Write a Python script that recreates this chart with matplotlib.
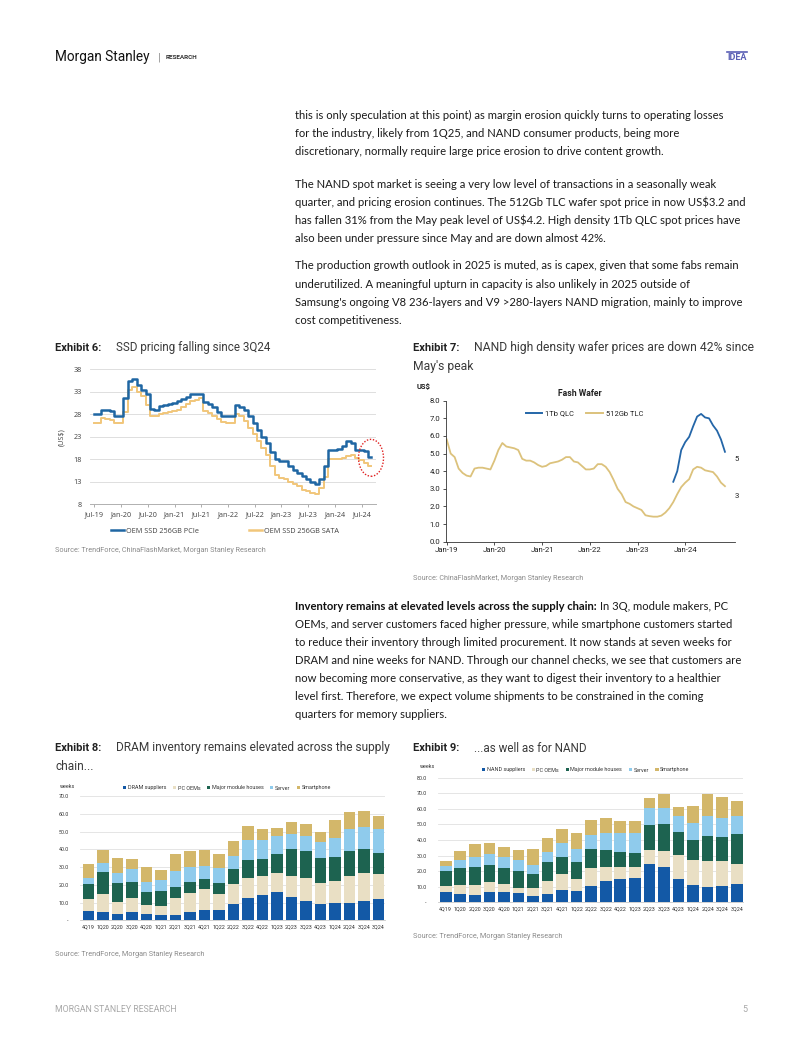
import matplotlib
matplotlib.use('Agg')
import matplotlib.pyplot as plt
from matplotlib.patches import Ellipse, Patch
from matplotlib.lines import Line2D
import numpy as np

# ---------------- DATA ----------------
# Exhibit 6: SSD pricing (US$), monthly Jul-19 .. Sep-24
ssd_pcie = [28, 28, 29, 29, 28.8, 27.6,
            27.5, 31.5, 35.5, 35.8, 34.5, 33.5, 32.5, 29.2, 29, 29.8, 30, 30.3,
            30.5, 31, 31.3, 31.8, 32.5, 32.5, 32.5, 30.8, 30.3, 29.5, 28.5, 27.5,
            27.5, 27.5, 30, 29.7, 29, 27.5, 26, 24.5, 23, 21.5, 19.5, 18,
            17.5, 17.5, 16.5, 15.5, 14.8, 14.2, 13.5, 13, 12.5, 13.5, 16.5, 20,
            20, 20.3, 21, 22, 21.5, 20, 20, 19.8, 18.5]
ssd_sata = [26, 26, 27.2, 27, 26.8, 26,
            26, 28.5, 33.5, 34, 33, 32, 30, 27.5, 27.5, 28, 28.2, 28.5,
            28.7, 29, 29.5, 30.3, 31, 31.2, 31.5, 28.7, 28.2, 27.5, 27, 26.2,
            26, 26, 28, 27.5, 26.5, 25, 23.5, 22, 20.5, 19, 16.5, 14.5,
            13.7, 13.5, 13, 12.5, 12, 11.2, 11, 10.5, 10.3, 11.5, 14, 18,
            18, 18, 18.3, 18.8, 19, 18.2, 17.8, 17.2, 16.5]
ssd_ticklabels = ['Jul-19', 'Jan-20', 'Jul-20', 'Jan-21', 'Jul-21', 'Jan-22',
                  'Jul-22', 'Jan-23', 'Jul-23', 'Jan-24', 'Jul-24']
ssd_yticks = [8, 13, 18, 23, 28, 33, 38]

# Exhibit 7: Flash wafer prices (US$), monthly Jan-19 .. Nov-24
wafer_tlc = [5.8, 5.0, 4.8, 4.15, 3.9, 3.75, 3.7, 4.15, 4.2, 4.2, 4.15, 4.1,
             4.6, 5.2, 5.6, 5.4, 5.35, 5.3, 5.2, 4.7, 4.6, 4.6, 4.5, 4.35,
             4.25, 4.3, 4.45, 4.5, 4.55, 4.65, 4.8, 4.8, 4.55, 4.5, 4.3, 4.1,
             4.1, 4.15, 4.4, 4.4, 4.25, 3.95, 3.5, 3.0, 2.7, 2.25, 2.15, 2.0,
             1.9, 1.8, 1.5, 1.45, 1.42, 1.42, 1.48, 1.65, 1.9, 2.25, 2.7, 3.1,
             3.35, 3.55, 4.1, 4.25, 4.2, 4.05, 4.0, 3.95, 3.7, 3.35, 3.15]
qlc_first_month_index = 57  # Oct-23 counted from Jan-19
wafer_qlc = [3.4, 4.0, 5.2, 5.65, 5.95, 6.55, 7.1, 7.25, 7.05, 7.0, 6.6, 6.3, 5.8, 5.1]
wafer_ticklabels = ['Jan-19', 'Jan-20', 'Jan-21', 'Jan-22', 'Jan-23', 'Jan-24']

# Exhibits 8 & 9: inventory weeks
quarters = ['4Q19', '1Q20', '2Q20', '3Q20', '4Q20', '1Q21', '2Q21', '3Q21', '4Q21',
            '1Q22', '2Q22', '3Q22', '4Q22', '1Q23', '2Q23', '3Q23', '4Q23', '1Q24',
            '2Q24', '3Q24', '3Q24']
dram_suppliers = [5.3, 4.9, 3.8, 4.5, 3.8, 3.2, 3.2, 4.5, 5.6, 6.0, 9.0, 12.4, 14.3,
                  15.8, 12.9, 10.9, 9.0, 9.6, 9.6, 10.9, 12.0]
dram_pc = [6.7, 9.9, 6.7, 8.3, 4.8, 5.1, 9.2, 10.7, 12.0, 8.8, 11.6, 11.6, 10.8,
           10.7, 12.1, 13.1, 11.8, 12.5, 15.5, 15.6, 13.9]
dram_module = [8.3, 12.6, 10.3, 8.6, 7.2, 8.2, 6.6, 6.2, 5.5, 6.4, 8.3, 10.0, 9.4,
               11.0, 15.0, 15.0, 14.1, 13.7, 13.9, 13.5, 12.2]
dram_server = [3.3, 4.7, 5.7, 7.3, 6.0, 6.2, 8.8, 8.8, 7.7, 8.1, 7.5, 11.0, 10.5,
               9.8, 8.8, 8.5, 9.4, 10.7, 12.2, 12.7, 13.3]
dram_phone = [8.3, 7.5, 8.4, 5.8, 8.0, 5.6, 9.4, 8.8, 8.8, 8.0, 8.3, 8.1, 6.2,
              4.5, 6.6, 6.9, 5.6, 10.0, 10.0, 9.0, 7.3]

nand_suppliers = [6.8, 5.1, 4.5, 6.8, 6.8, 5.8, 4.3, 5.1, 7.9, 7.1, 10.5, 13.7, 15.0,
                  15.8, 24.8, 22.9, 15.0, 11.1, 9.8, 10.7, 11.6]
nand_pc = [3.7, 6.0, 6.6, 6.5, 5.2, 3.6, 4.7, 8.8, 10.1, 7.9, 11.3, 9.2, 7.9,
           7.1, 8.7, 10.0, 15.4, 16.1, 16.7, 15.8, 13.0]
nand_module = [9.6, 11.1, 11.8, 10.7, 10.2, 10.9, 9.2, 11.8, 11.3, 10.7, 12.4, 10.6, 9.6,
               9.0, 16.1, 17.6, 14.9, 12.6, 16.2, 15.4, 19.0]
nand_server = [3.2, 5.0, 6.0, 7.0, 7.1, 6.9, 5.7, 6.8, 9.0, 8.3, 9.0, 10.8, 11.8,
               12.4, 10.7, 9.8, 10.1, 10.9, 12.9, 12.4, 12.0]
nand_phone = [3.4, 5.7, 8.5, 6.9, 6.4, 6.4, 10.3, 8.6, 8.8, 10.3, 9.6, 9.6, 7.9,
              7.9, 6.8, 9.0, 6.0, 11.3, 13.7, 13.1, 9.6]

# ---------------- STYLE ----------------
W, H = 802, 1037
BODY = 'Lato'
TITLE = 'Roboto'
seg_colors = ['#1359a6', '#e9dfc4', '#1d6350', '#8fcbec', '#d3b76a']
blue_line = '#1f66a3'
tan_line = '#f1c67a'
wafer_tan = '#dcc27c'
wafer_blue = '#2466a8'

fig = plt.figure(figsize=(W / 100, H / 100), dpi=100)
fig.patch.set_facecolor('white')


def fx(x):
    return x / W


def fy(y):
    return 1 - y / H


def T(x, y, s, **kw):
    kw.setdefault('va', 'center')
    return fig.text(fx(x), fy(y), s, **kw)


def fit_width(txt, target_px):
    """Scale a text's font size so that its rendered width equals target_px."""
    r = fig.canvas.get_renderer()
    w = txt.get_window_extent(renderer=r).width
    if w > 0:
        txt.set_fontsize(txt.get_fontsize() * target_px / w)


def axes_px(x0, y0, x1, y1):
    return fig.add_axes([fx(x0), fy(y1), (x1 - x0) / W, (y1 - y0) / H])


# ---------------- HEADER / FOOTER ----------------
ms = T(55, 57, 'Morgan Stanley', fontsize=10.5, family='Roboto', color='#111111')
fit_width(ms, 95)
T(158, 57, '|', fontsize=8, family='Roboto', color='#888888')
T(166, 57.5, 'RESEARCH', fontsize=4.6, family='Roboto', weight='bold', color='#333333')
T(727, 58, 'IDEA', fontsize=6.5, family='Roboto', weight='bold', color='#5a5fb5')
fig.add_artist(Line2D([fx(727), fx(747)], [fy(51.5), fy(51.5)], color='#5a5fb5', lw=1.2))
T(55, 1010, 'MORGAN STANLEY RESEARCH', fontsize=6.3, family='Roboto', color='#a8a8a8')
T(742, 1010, '5', fontsize=6.5, family='Roboto', color='#a8a8a8')

# ---------------- BODY TEXT ----------------
para_lines = [
    (115, "this is only speculation at this point) as margin erosion quickly turns to operating losses"),
    (133.3, "for the industry, likely from 1Q25, and NAND consumer products, being more"),
    (151.7, "discretionary, normally require large price erosion to drive content growth."),
    (184, "The NAND spot market is seeing a very low level of transactions in a seasonally weak"),
    (202.3, "quarter, and pricing erosion continues. The 512Gb TLC wafer spot price in now US$3.2 and"),
    (220.7, "has fallen 31% from the May peak level of US$4.2. High density 1Tb QLC spot prices have"),
    (238.3, "also been under pressure since May and are down almost 42%."),
    (265.7, "The production growth outlook in 2025 is muted, as is capex, given that some fabs remain"),
    (284.3, "underutilized. A meaningful upturn in capacity is also unlikely in 2025 outside of"),
    (302.7, "Samsung's ongoing V8 236-layers and V9 >280-layers NAND migration, mainly to improve"),
    (320.7, "cost competitiveness."),
    (624, "OEMs, and server customers faced higher pressure, while smartphone customers started"),
    (642, "to reduce their inventory through limited procurement. It now stands at seven weeks for"),
    (660, "DRAM and nine weeks for NAND. Through our channel checks, we see that customers are"),
    (678, "now becoming more conservative, as they want to digest their inventory to a healthier"),
    (696, "level first. Therefore, we expect volume shipments to be constrained in the coming"),
    (714, "quarters for memory suppliers."),
]
BODY_FS = 8.15
for y, s in para_lines:
    T(295, y, s, fontsize=BODY_FS, family=BODY, color='#1a1a1a')
bold_t = T(295, 606, "Inventory remains at elevated levels across the supply chain:",
           fontsize=BODY_FS, family=BODY, weight='bold', color='#111111')
fig.canvas.draw()
bb = bold_t.get_window_extent()
rest_x = bb.x1 / fig.dpi * 100 + 3
T(rest_x, 606, "In 3Q, module makers, PC", fontsize=BODY_FS, family=BODY, color='#1a1a1a')


# ---------------- EXHIBIT TITLES ----------------
def exhibit_title(x, y, num, lines, first_end_px, gap=61):
    T(x, y, f'Exhibit {num}:', fontsize=8, family=TITLE, weight='bold', color='#222222')
    objs = []
    for i, s in enumerate(lines):
        xx = x + gap if i == 0 else x
        objs.append(T(xx, y + 18 * i, s, fontsize=8.3, family=TITLE, color='#3a3a3a'))
    fit_width(objs[0], first_end_px - (x + gap))
    for o in objs[1:]:
        o.set_fontsize(objs[0].get_fontsize())


exhibit_title(55, 348, 6, ['SSD pricing falling since 3Q24'], 270)
exhibit_title(413, 348, 7, ['NAND high density wafer prices are down 42% since', "May's peak"], 755)
exhibit_title(55, 748, 8, ['DRAM inventory remains elevated across the supply', 'chain...'], 390)
exhibit_title(413, 748, 9, ['...as well as for NAND'], 586)

SRC = dict(fontsize=5.2, family=TITLE, color='#8a8a8a')
T(55, 551, 'Source: TrendForce, ChinaFlashMarket, Morgan Stanley Research', **SRC)
T(413, 579, 'Source: ChinaFlashMarket, Morgan Stanley Research', **SRC)
T(55, 954, 'Source: TrendForce, Morgan Stanley Research', **SRC)
T(413, 937, 'Source: TrendForce, Morgan Stanley Research', **SRC)

# ---------------- EXHIBIT 6 ----------------
ax6 = axes_px(90, 369.3, 376, 504)
px_per_month = 4.457
ax6.set_xlim(-(94.3 - 90) / px_per_month, (376 - 94.3) / px_per_month)
ax6.set_ylim(8, 38)
x6 = np.arange(len(ssd_pcie))
ax6.plot(x6, ssd_sata, color=tan_line, lw=1.4, drawstyle='steps-mid', zorder=3)
ax6.plot(x6, ssd_pcie, color=blue_line, lw=1.8, drawstyle='steps-mid', zorder=4)
ax6.set_yticks(ssd_yticks)
ax6.set_yticklabels([str(v) for v in ssd_yticks])
ax6.set_xticks(np.arange(0, 6 * len(ssd_ticklabels), 6))
ax6.set_xticklabels(ssd_ticklabels)
ax6.tick_params(axis='y', length=0, labelsize=5.2, colors='#404040', pad=6)
ax6.tick_params(axis='x', length=2, width=0.6, color='#a0a0a0', labelsize=5.2,
                labelcolor='#404040', pad=3)
for lab in ax6.get_xticklabels() + ax6.get_yticklabels():
    lab.set_family('Open Sans')
ax6.grid(axis='y', color='#d9d9d9', lw=0.6)
ax6.set_axisbelow(True)
for s in ['top', 'right', 'left']:
    ax6.spines[s].set_visible(False)
ax6.spines['bottom'].set_color('#b0b0b0')
ax6.spines['bottom'].set_linewidth(0.7)
ax6.set_ylabel('(US$)', fontsize=5.2, color='#404040', family='Open Sans', labelpad=6)
ell = Ellipse(((371 - 94.3) / px_per_month, 38 - (458 - 369.3) / 4.5), 25 / px_per_month, 37 / 4.5,
              fill=False, ls=(0, (1, 1.2)), lw=1.0, color='#e02020', clip_on=False, zorder=5)
ax6.add_patch(ell)
leg6 = [Line2D([0], [0], color=blue_line, lw=1.8), Line2D([0], [0], color=tan_line, lw=1.8)]
fig.legend(leg6, ['OEM SSD 256GB PCIe', 'OEM SSD 256GB SATA'], loc='center left',
           bbox_to_anchor=(fx(104), fy(531)), ncol=2, frameon=False,
           prop={'family': 'Open Sans', 'size': 5.2}, handlelength=1.8, handletextpad=0.3,
           columnspacing=7.0, labelcolor='#404040')

# ---------------- EXHIBIT 7 ----------------
ax7 = axes_px(445.7, 400.7, 735, 541.7)
ppm7 = 47.7 / 12
ax7.set_xlim(-(446.7 - 445.7) / ppm7, (735 - 446.7) / ppm7)
ax7.set_ylim(0, 8)
x7 = np.arange(len(wafer_tlc))
xq = np.arange(qlc_first_month_index, qlc_first_month_index + len(wafer_qlc))
ax7.plot(x7, wafer_tlc, color=wafer_tan, lw=1.3)
ax7.plot(xq, wafer_qlc, color=wafer_blue, lw=1.3)
ax7.set_yticks(np.arange(0, 9, 1))
ax7.set_yticklabels([f'{v:.1f}' for v in np.arange(0, 9, 1)])
ax7.set_xticks(np.arange(0, 12 * len(wafer_ticklabels), 12))
ax7.set_xticklabels(wafer_ticklabels)
ax7.tick_params(axis='both', length=2, width=0.6, color='#333333', labelsize=5.6,
                labelcolor='#222222', pad=2)
for lab in ax7.get_xticklabels() + ax7.get_yticklabels():
    lab.set_family('Roboto')
for s in ['top', 'right']:
    ax7.spines[s].set_visible(False)
for s in ['left', 'bottom']:
    ax7.spines[s].set_color('#333333')
    ax7.spines[s].set_linewidth(0.6)
ax7.annotate(f'{wafer_qlc[-1]:.0f}', (xq[-1], wafer_qlc[-1]), xytext=(7, -5), textcoords='offset points',
             fontsize=5.6, family='Roboto', color='#222222', va='center')
ax7.annotate(f'{wafer_tlc[-1]:.0f}', (x7[-1], wafer_tlc[-1]), xytext=(7, -7), textcoords='offset points',
             fontsize=5.6, family='Roboto', color='#222222', va='center')
T(417, 387, 'US$', fontsize=5.5, family='Roboto', weight='bold', color='#222222')
T(580, 394, 'Fash Wafer', fontsize=6.2, family='Roboto', weight='bold', color='#222222', ha='center')
leg7 = [Line2D([0], [0], color=wafer_blue, lw=1.4), Line2D([0], [0], color=wafer_tan, lw=1.4)]
fig.legend(leg7, ['1Tb QLC', '512Gb TLC'], loc='center left', bbox_to_anchor=(fx(519), fy(414)),
           ncol=2, frameon=False, prop={'family': 'Roboto', 'size': 5.4}, handlelength=2.2,
           handletextpad=0.4, columnspacing=1.6, labelcolor='#222222')

# ---------------- EXHIBITS 8 & 9 ----------------
names_dram = ['DRAM suppliers', 'PC OEMs', 'Major module houses', 'Server', 'Smartphone']
names_nand = ['NAND suppliers', 'PC OEMs', 'Major module houses', 'Server', 'Smartphone']


def stacked(ax, series, names, ymax, step, legend_xy, weeks_xy):
    x = np.arange(len(quarters))
    bottom = np.zeros(len(quarters))
    for vals, col in zip(series, seg_colors):
        ax.bar(x, vals, bottom=bottom, width=0.8, color=col, edgecolor='none', zorder=3)
        bottom = bottom + np.array(vals)
    ax.set_ylim(0, ymax)
    yt = np.arange(0, ymax + 1, step)
    ax.set_yticks(yt)
    ax.set_yticklabels(['-' if v == 0 else f'{v:.1f}' for v in yt])
    ax.set_xticks(x)
    ax.set_xticklabels(quarters)
    ax.tick_params(axis='both', length=0, labelsize=3.9, labelcolor='#333333')
    ax.tick_params(axis='y', pad=8)
    ax.tick_params(axis='x', pad=3)
    for lab in ax.get_xticklabels() + ax.get_yticklabels():
        lab.set_family('Roboto')
    ax.grid(axis='y', color='#e0e0e0', lw=0.6)
    ax.set_axisbelow(True)
    for s in ['top', 'right', 'left']:
        ax.spines[s].set_visible(False)
    ax.spines['bottom'].set_color('#c8c8c8')
    ax.spines['bottom'].set_linewidth(0.6)
    handles = [Patch(facecolor=c, edgecolor='none') for c in seg_colors]
    fig.legend(handles, names, loc='center left', bbox_to_anchor=(fx(legend_xy[0]), fy(legend_xy[1])),
               ncol=5, frameon=False, prop={'family': 'Roboto', 'size': 3.9}, handlelength=0.6,
               handleheight=0.6, handletextpad=0.3, columnspacing=1.2, labelcolor='#333333')
    T(weeks_xy[0], weeks_xy[1], 'weeks', fontsize=3.9, family='Roboto', color='#333333')


ax8 = axes_px(80, 796, 385, 920.3)
ppb8 = 14.5
ax8.set_xlim(-(88.3 - 80) / ppb8, (385 - 88.3) / ppb8)
stacked(ax8, [dram_suppliers, dram_pc, dram_module, dram_server, dram_phone], names_dram,
        70, 10, (118, 788), (60, 786))

ax9 = axes_px(438, 777.7, 743, 902.3)
ppb9 = 14.55
ax9.set_xlim(-(445.7 - 438) / ppb9, (743 - 445.7) / ppb9)
stacked(ax9, [nand_suppliers, nand_pc, nand_module, nand_server, nand_phone], names_nand,
        80, 10, (477, 770), (420, 767))

fig.savefig('out.png', dpi=100, facecolor='white')
